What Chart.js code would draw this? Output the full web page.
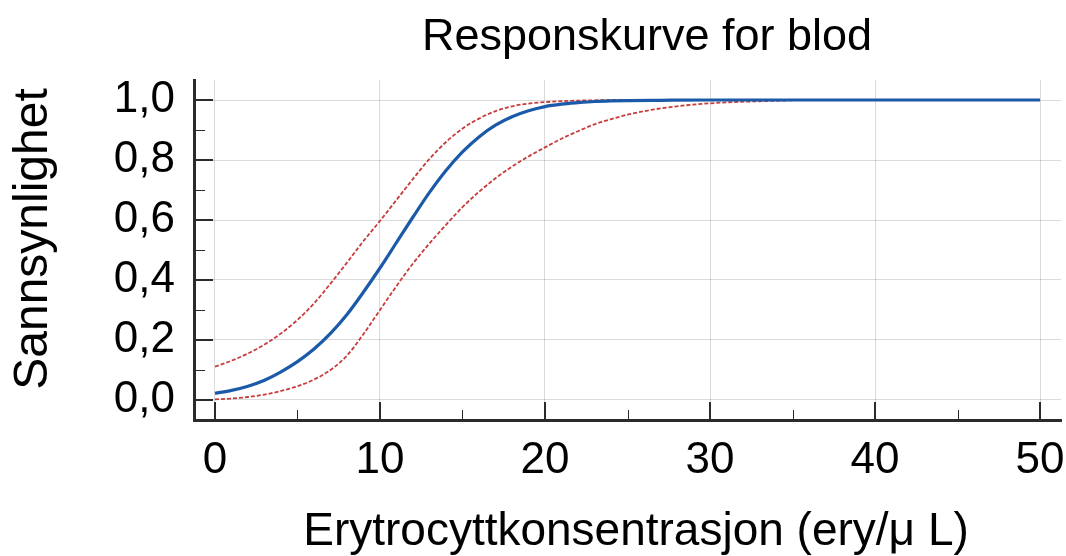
<!DOCTYPE html>
<html>
<head>
<meta charset="utf-8">
<title>Responskurve for blod</title>
<script src="https://cdn.jsdelivr.net/npm/chart.js@4/dist/chart.umd.min.js"></script>
<style>
  html, body { margin: 0; padding: 0; background: #fff; }
  #wrap { width: 1066px; height: 556px; }
</style>
</head>
<body>
<div id="wrap"><canvas id="chart"></canvas></div>
<script>
// values
const xValues = [0, 1, 2, 3, 4, 5, 6, 7, 8, 9, 10, 11, 12, 13, 14, 15, 16, 17, 18, 19, 20,
  21, 22, 23, 24, 25, 27, 30, 35, 40, 45, 50];
const fitted = [0.022, 0.032, 0.046, 0.066, 0.094, 0.128, 0.17, 0.222, 0.285, 0.36, 0.44,
  0.525, 0.61, 0.692, 0.765, 0.827, 0.877, 0.916, 0.944, 0.964, 0.978,
  0.986, 0.991, 0.995, 0.997, 0.998, 0.999, 1.0, 1.0, 1.0, 1.0, 1.0];
// confidence band stops at x = 35
const upperBand = [0.111, 0.131, 0.155, 0.185, 0.222, 0.267, 0.322, 0.388, 0.458, 0.53, 0.597,
  0.667, 0.737, 0.804, 0.86, 0.905, 0.938, 0.963, 0.979, 0.988, 0.993,
  0.996, 0.998, 0.999, 1.0, 1.0, 1.0, 1.0, 1.0];
const lowerBand = [0.002, 0.005, 0.01, 0.018, 0.03, 0.046, 0.068, 0.1, 0.148, 0.22, 0.3,
  0.38, 0.455, 0.522, 0.584, 0.643, 0.694, 0.739, 0.778, 0.812, 0.842,
  0.871, 0.896, 0.919, 0.936, 0.951, 0.972, 0.989, 0.999];

const xTicks = [0, 10, 20, 30, 40, 50];
const xMinorTicks = [5, 15, 25, 35, 45];
const yTicks = [0, 0.2, 0.4, 0.6, 0.8, 1.0];
const yMinorTicks = [0.1, 0.3, 0.5, 0.7, 0.9];

const chartTitle = 'Responskurve for blod';
const xTitle = 'Erytrocyttkonsentrasjon (ery/\u03BC L)';
const yTitle = 'Sannsynlighet';

const FONT = '"Liberation Sans", Arial, sans-serif';
const axisColor = '#2b2b2b';

const toPoints = (ys) => ys.map((y, i) => ({ x: xValues[i], y }));

// inward tick marks + titles
const axisDecor = {
  id: 'axisDecor',
  beforeDatasetsDraw(chart) {
    const { ctx, chartArea: a, scales: { x, y } } = chart;
    ctx.save();
    ctx.strokeStyle = axisColor;
    const mark = (x1, y1, x2, y2, w) => {
      ctx.lineWidth = w;
      ctx.beginPath();
      ctx.moveTo(x1, y1);
      ctx.lineTo(x2, y2);
      ctx.stroke();
    };
    yTicks.forEach(v => {
      const p = Math.round(y.getPixelForValue(v));
      mark(a.left, p, a.left + 19, p, 2);
    });
    yMinorTicks.forEach(v => {
      const p = Math.round(y.getPixelForValue(v)) + 0.5;
      mark(a.left, p, a.left + 11, p, 1);
    });
    xTicks.forEach(v => {
      const p = Math.round(x.getPixelForValue(v));
      mark(p, a.bottom, p, a.bottom - 18, 2);
    });
    xMinorTicks.forEach(v => {
      const p = Math.round(x.getPixelForValue(v)) + 0.5;
      mark(p, a.bottom, p, a.bottom - 10, 1);
    });
    ctx.restore();
  },
  afterDraw(chart) {
    const { ctx } = chart;
    ctx.save();
    ctx.fillStyle = '#000';
    ctx.textAlign = 'center';
    ctx.textBaseline = 'alphabetic';
    ctx.font = '45px ' + FONT;
    ctx.fillText(chartTitle, 647, 50);
    ctx.font = '46px ' + FONT;
    ctx.fillText(xTitle, 636, 545);
    ctx.font = '48px ' + FONT;
    ctx.translate(47, 239);
    ctx.rotate(-Math.PI / 2);
    ctx.fillText(yTitle, 0, 0);
    ctx.restore();
  }
};

const ctx = document.getElementById('chart').getContext('2d');
new Chart(ctx, {
  type: 'line',
  data: {
    datasets: [
      {
        label: 'Respons',
        data: toPoints(fitted),
        borderColor: '#1a5aa8',
        borderWidth: 3.2,
        pointRadius: 0,
        cubicInterpolationMode: 'monotone',
        order: 0
      },
      {
        label: 'Øvre grense',
        data: toPoints(upperBand),
        borderColor: '#c83c3c',
        borderWidth: 1.8,
        borderDash: [4, 2],
        pointRadius: 0,
        cubicInterpolationMode: 'monotone',
        order: 1
      },
      {
        label: 'Nedre grense',
        data: toPoints(lowerBand),
        borderColor: '#c83c3c',
        borderWidth: 1.8,
        borderDash: [4, 2],
        pointRadius: 0,
        cubicInterpolationMode: 'monotone',
        order: 2
      }
    ]
  },
  options: {
    responsive: true,
    maintainAspectRatio: false,
    animation: false,
    layout: { padding: { top: 80, right: 5, left: 0, bottom: 0 } },
    plugins: {
      legend: { display: false },
      title: { display: false },
      tooltip: { enabled: false }
    },
    scales: {
      x: {
        type: 'linear',
        min: -1.2727,
        max: 51.2727,
        afterFit: (scale) => {
          scale.height = 136;
          scale.paddingLeft = 0;
          scale.paddingRight = 0;
        },
        afterBuildTicks: (scale) => { scale.ticks = xTicks.map(v => ({ value: v })); },
        grid: { color: 'rgba(0,0,0,0.14)', lineWidth: 1, drawTicks: false },
        border: { color: axisColor, width: 3 },
        ticks: {
          color: '#000',
          padding: 14,
          maxRotation: 0,
          font: { family: FONT, size: 44 }
        }
      },
      y: {
        type: 'linear',
        min: -0.0667,
        max: 1.0667,
        afterFit: (scale) => {
          scale.width = 194;
          scale.paddingTop = 0;
          scale.paddingBottom = 0;
        },
        afterBuildTicks: (scale) => { scale.ticks = yTicks.map(v => ({ value: v })); },
        grid: { color: 'rgba(0,0,0,0.14)', lineWidth: 1, drawTicks: false },
        border: { color: axisColor, width: 3 },
        ticks: {
          color: '#000',
          padding: 19,
          font: { family: FONT, size: 44 },
          callback: (v) => v.toFixed(1).replace('.', ',')
        }
      }
    }
  },
  plugins: [axisDecor]
});
</script>
</body>
</html>
